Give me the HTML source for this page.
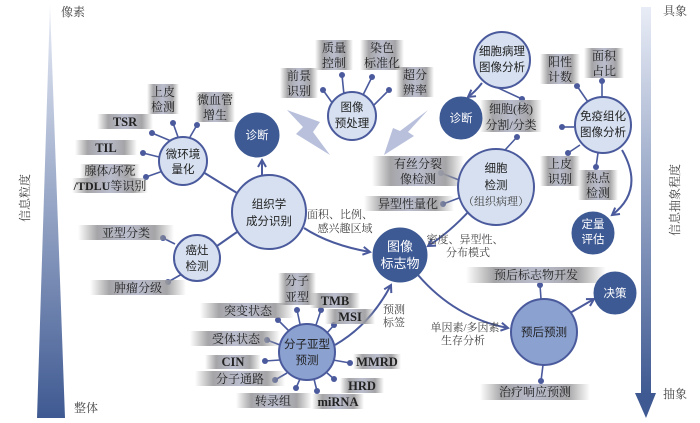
<!DOCTYPE html>
<html><head><meta charset="utf-8"><style>
html,body{margin:0;padding:0;background:#fff;}
svg{display:block;}
.t{font-family:"Liberation Serif","Noto Serif CJK SC",serif;font-size:12px;fill:#222;text-anchor:middle;}
.b{font-family:"Liberation Serif","Noto Serif CJK SC",serif;font-size:12.5px;font-weight:bold;fill:#222;text-anchor:middle;}
.w{font-family:"Liberation Sans","Noto Sans CJK SC",sans-serif;font-size:11.5px;fill:#fff;text-anchor:middle;}
.n{font-family:"Liberation Sans","Noto Sans CJK SC",sans-serif;font-size:11.5px;fill:#222;text-anchor:middle;}
.g{font-family:"Liberation Serif","Noto Serif CJK SC",serif;font-size:11px;fill:#444;text-anchor:middle;}
.lt{fill:#d6e0f0;stroke:#4a5a9c;stroke-width:2;}
.md{fill:#8ba1d0;stroke:#4a5a9c;stroke-width:2;}
.dk{fill:#3e5a94;stroke:#3e5a94;stroke-width:1;}
.ln{stroke:#4a5a9c;stroke-width:2;fill:none;}
.dot{fill:#4a5a9c;}
</style></head><body>
<svg width="700" height="423" viewBox="0 0 700 423" xmlns="http://www.w3.org/2000/svg">
<defs>
<linearGradient id="lab" x1="0" x2="1" y1="0" y2="0">
<stop offset="0" stop-color="#999" stop-opacity="0"/>
<stop offset="0.2" stop-color="#9b9b9e" stop-opacity="0.9"/>
<stop offset="0.5" stop-color="#b3b6c8" stop-opacity="0.9"/>
<stop offset="0.8" stop-color="#9b9b9e" stop-opacity="0.9"/>
<stop offset="1" stop-color="#999" stop-opacity="0"/>
</linearGradient>
<linearGradient id="wedge" x1="0" x2="0" y1="0" y2="1">
<stop offset="0" stop-color="#e8ecf6"/>
<stop offset="1" stop-color="#3f5a92"/>
</linearGradient>
<marker id="ar" markerWidth="10" markerHeight="10" refX="8" refY="5" orient="auto" markerUnits="userSpaceOnUse">
<path d="M1,1 L8,5 L1,9" fill="none" stroke="#4a5a9c" stroke-width="2"/>
</marker>
</defs>

<!-- left wedge -->
<polygon points="50,5 37,418 65,418" fill="url(#wedge)"/>
<text class="g" x="73" y="16" style="font-size:12px">像素</text>
<text class="g" x="86" y="412" style="font-size:12px;text-anchor:middle">整体</text>
<text class="g" x="0" y="0" transform="translate(29,198) rotate(-90)" style="font-size:12px">信息粒度</text>

<!-- right arrow bar -->
<rect x="641" y="7" width="10" height="388" fill="url(#wedge)"/>
<polygon points="635,393 656,393 646,418" fill="#3f5a92"/>
<text class="g" x="675" y="15" style="font-size:12px">具象</text>
<text class="g" x="675" y="398" style="font-size:12px">抽象</text>
<text class="g" x="0" y="0" transform="translate(679,200) rotate(-90)" style="font-size:12px">信息抽象程度</text>

<!-- lightning arrows -->
<polygon points="287,110 320,122 313,132 330,155 296,134 303,127" fill="#b8c0dc"/>
<polygon points="428,110 408,132 414,136 384,155 393,128 400,131" fill="#b8c0dc"/>

<!-- connectors -->
<line class="ln" x1="203" y1="172" x2="237" y2="193"/>
<line class="ln" x1="262" y1="176" x2="262" y2="160" marker-end="url(#ar)"/>
<line class="ln" x1="237" y1="232" x2="217" y2="246"/>
<path class="ln" d="M304,228 Q330,245 370,252" marker-end="url(#ar)"/>
<path class="ln" d="M470,210 Q450,232 428,246" marker-end="url(#ar)"/>
<path class="ln" d="M482,83 Q475,92 468,97" marker-end="url(#ar)"/>
<path class="ln" d="M622,150 Q645,190 612,215" marker-end="url(#ar)"/>
<path class="ln" d="M335,345 Q370,325 391,285" marker-end="url(#ar)"/>
<path class="ln" d="M418,275 Q455,318 508,328" marker-end="url(#ar)"/>
<line class="ln" x1="570" y1="313" x2="594" y2="299" marker-end="url(#ar)"/>

<!-- spokes -->
<g class="ln" style="stroke-width:1.6">
<line x1="171" y1="141" x2="152" y2="133"/>
<line x1="178" y1="137" x2="173" y2="123"/>
<line x1="190" y1="137" x2="197" y2="125"/>
<line x1="159" y1="157" x2="143" y2="153"/>
<line x1="163" y1="171" x2="146" y2="177"/>
<line x1="175" y1="244" x2="163" y2="238"/>
<line x1="182" y1="274" x2="168" y2="282"/>
<line x1="333" y1="104" x2="323" y2="90"/>
<line x1="344" y1="95" x2="342" y2="75"/>
<line x1="363" y1="95" x2="372" y2="77"/>
<line x1="373" y1="106" x2="389" y2="90"/>
<line x1="494" y1="86" x2="522" y2="99"/>
<line x1="505" y1="150" x2="517" y2="137"/>
<line x1="574" y1="127" x2="562" y2="127"/>
<line x1="588" y1="102" x2="577" y2="86"/>
<line x1="602" y1="97" x2="602" y2="81"/>
<line x1="580" y1="145" x2="568" y2="153"/>
<line x1="598" y1="153" x2="596" y2="167"/>
<line x1="459" y1="180" x2="441" y2="173"/>
<line x1="459" y1="198" x2="443" y2="204"/>
<line x1="541" y1="299" x2="540" y2="285"/>
<line x1="543" y1="365" x2="541" y2="381"/>
<line x1="300" y1="324" x2="297" y2="310"/>
<line x1="316" y1="325" x2="321" y2="310"/>
<line x1="289" y1="331" x2="278" y2="320"/>
<line x1="327" y1="333" x2="334" y2="325"/>
<line x1="280" y1="345" x2="267" y2="340"/>
<line x1="280" y1="360" x2="265" y2="361"/>
<line x1="333" y1="360" x2="350" y2="363"/>
<line x1="287" y1="373" x2="275" y2="380"/>
<line x1="326" y1="372" x2="334" y2="379"/>
<line x1="300" y1="379" x2="296" y2="388"/>
<line x1="314" y1="379" x2="317" y2="391"/>
</g>
<g class="dot">
<circle cx="152" cy="133" r="3"/><circle cx="173" cy="123" r="3"/><circle cx="197" cy="125" r="3"/><circle cx="143" cy="153" r="3"/><circle cx="146" cy="177" r="3"/>
<circle cx="163" cy="238" r="3"/><circle cx="168" cy="282" r="3"/>
<circle cx="323" cy="90" r="3"/><circle cx="342" cy="75" r="3"/><circle cx="372" cy="77" r="3"/><circle cx="389" cy="90" r="3"/>
<circle cx="522" cy="99" r="3"/><circle cx="517" cy="137" r="3"/><circle cx="562" cy="127" r="3"/>
<circle cx="577" cy="86" r="3"/><circle cx="602" cy="81" r="3"/><circle cx="568" cy="153" r="3"/><circle cx="596" cy="167" r="3"/>
<circle cx="441" cy="173" r="3"/><circle cx="443" cy="204" r="3"/>
<circle cx="540" cy="285" r="3"/><circle cx="541" cy="381" r="3"/>
<circle cx="297" cy="310" r="3"/><circle cx="321" cy="310" r="3"/><circle cx="278" cy="320" r="3"/><circle cx="334" cy="325" r="3"/>
<circle cx="267" cy="340" r="3"/><circle cx="265" cy="361" r="3"/><circle cx="350" cy="363" r="3"/><circle cx="275" cy="380" r="3"/>
<circle cx="334" cy="379" r="3"/><circle cx="296" cy="388" r="3"/><circle cx="317" cy="391" r="3"/>
</g>

<!-- label backgrounds -->
<g fill="url(#lab)">
<rect x="97" y="114" width="56" height="15"/>
<rect x="75" y="140" width="62" height="15"/>
<rect x="80" y="164" width="60" height="14"/>
<rect x="72" y="178" width="76" height="15"/>
<rect x="147" y="84" width="32" height="30"/>
<rect x="195" y="92" width="40" height="30"/>
<rect x="78" y="225" width="96" height="15"/>
<rect x="90" y="280" width="96" height="15"/>
<rect x="280" y="68" width="38" height="30"/>
<rect x="315" y="40" width="38" height="30"/>
<rect x="360" y="40" width="44" height="30"/>
<rect x="396" y="67" width="38" height="30"/>
<rect x="480" y="100" width="62" height="32"/>
<rect x="540" y="54" width="40" height="30"/>
<rect x="584" y="48" width="40" height="30"/>
<rect x="540" y="156" width="40" height="30"/>
<rect x="578" y="170" width="40" height="30"/>
<rect x="372" y="156" width="92" height="30"/>
<rect x="364" y="196" width="90" height="15"/>
<rect x="466" y="267" width="140" height="16"/>
<rect x="480" y="384" width="110" height="16"/>
<rect x="278" y="273" width="38" height="32"/>
<rect x="310" y="293" width="50" height="15"/>
<rect x="200" y="303" width="94" height="15"/>
<rect x="325" y="309" width="50" height="15"/>
<rect x="190" y="331" width="90" height="15"/>
<rect x="205" y="355" width="56" height="14"/>
<rect x="353" y="354" width="48" height="15"/>
<rect x="195" y="371" width="90" height="15"/>
<rect x="340" y="378" width="44" height="15"/>
<rect x="236" y="393" width="76" height="15"/>
<rect x="312" y="394" width="52" height="15"/>
</g>

<!-- nodes -->
<circle class="lt" cx="183" cy="161" r="24"/>
<text class="n" x="183" y="158">微环境</text><text class="n" x="183" y="173">量化</text>
<circle class="dk" cx="257" cy="135" r="22"/>
<text class="w" x="257" y="139">诊断</text>
<circle class="lt" cx="269" cy="212" r="37"/>
<text class="n" x="269" y="208">组织学</text><text class="n" x="269" y="225">成分识别</text>
<circle class="lt" cx="197" cy="258" r="23"/>
<text class="n" x="197" y="254">癌灶</text><text class="n" x="197" y="270">检测</text>
<circle class="lt" cx="352" cy="116" r="24"/>
<text class="n" x="352" y="111">图像</text><text class="n" x="352" y="127">预处理</text>
<circle class="lt" cx="502" cy="60" r="28"/>
<text class="n" x="502" y="55">细胞病理</text><text class="n" x="502" y="71">图像分析</text>
<circle class="dk" cx="461" cy="118" r="21"/>
<text class="w" x="461" y="122">诊断</text>
<circle class="lt" cx="603" cy="125" r="28"/>
<text class="n" x="603" y="120">免疫组化</text><text class="n" x="603" y="136">图像分析</text>
<circle class="lt" cx="496" cy="187" r="38"/>
<text class="n" x="496" y="172">细胞</text><text class="n" x="496" y="189">检测</text>
<text class="g" x="496" y="205">（组织病理）</text>
<circle class="dk" cx="593" cy="233" r="21"/>
<text class="w" x="593" y="228">定量</text><text class="w" x="593" y="243">评估</text>
<circle class="dk" cx="400" cy="255" r="27"/>
<text class="w" x="400" y="251" style="font-size:13px">图像</text><text class="w" x="400" y="268" style="font-size:13px">标志物</text>
<circle class="dk" cx="615" cy="293" r="21"/>
<text class="w" x="615" y="297">决策</text>
<circle class="md" cx="544" cy="332" r="33"/>
<text class="n" x="544" y="336">预后预测</text>
<circle class="md" cx="307" cy="352" r="28"/>
<text class="n" x="307" y="348">分子亚型</text><text class="n" x="307" y="364">预测</text>

<!-- connector labels -->
<text class="g" x="340" y="218">面积、比例、</text>
<text class="g" x="345" y="232">感兴趣区域</text>
<text class="g" x="465" y="243">密度、异型性、</text>
<text class="g" x="468" y="256">分布模式</text>
<text class="g" x="394" y="313">预测</text><text class="g" x="394" y="326">标签</text>
<text class="g" x="465" y="331">单因素/多因素</text>
<text class="g" x="463" y="344">生存分析</text>

<!-- labels -->
<text class="b" x="125" y="126">TSR</text>
<text class="b" x="106" y="152">TIL</text>
<text class="t" x="110" y="175">腺体/坏死</text>
<text class="t" x="110" y="190"><tspan font-weight="bold">/TDLU</tspan>等识别</text>
<text class="t" x="163" y="96">上皮</text><text class="t" x="163" y="111">检测</text>
<text class="t" x="215" y="104">微血管</text><text class="t" x="215" y="119">增生</text>
<text class="t" x="126" y="237">亚型分类</text>
<text class="t" x="138" y="292">肿瘤分级</text>
<text class="t" x="299" y="80">前景</text><text class="t" x="299" y="95">识别</text>
<text class="t" x="334" y="52">质量</text><text class="t" x="334" y="67">控制</text>
<text class="t" x="382" y="52">染色</text><text class="t" x="382" y="67">标准化</text>
<text class="t" x="415" y="79">超分</text><text class="t" x="415" y="94">辨率</text>
<text class="t" x="511" y="113">细胞(核)</text><text class="t" x="511" y="129">分割/分类</text>
<text class="t" x="560" y="66">阳性</text><text class="t" x="560" y="81">计数</text>
<text class="t" x="604" y="60">面积</text><text class="t" x="604" y="75">占比</text>
<text class="t" x="560" y="168">上皮</text><text class="t" x="560" y="183">识别</text>
<text class="t" x="598" y="182">热点</text><text class="t" x="598" y="197">检测</text>
<text class="t" x="418" y="168">有丝分裂</text><text class="t" x="418" y="183">像检测</text>
<text class="t" x="408" y="208">异型性量化</text>
<text class="t" x="536" y="279">预后标志物开发</text>
<text class="t" x="535" y="396">治疗响应预测</text>
<text class="t" x="297" y="285">分子</text><text class="t" x="297" y="301">亚型</text>
<text class="b" x="335" y="305">TMB</text>
<text class="t" x="248" y="315">突变状态</text>
<text class="b" x="350" y="321">MSI</text>
<text class="t" x="236" y="343">受体状态</text>
<text class="b" x="233" y="366">CIN</text>
<text class="b" x="377" y="366">MMRD</text>
<text class="t" x="240" y="383">分子通路</text>
<text class="b" x="362" y="390">HRD</text>
<text class="t" x="273" y="405">转录组</text>
<text class="b" x="338" y="406">miRNA</text>
</svg>
</body></html>
